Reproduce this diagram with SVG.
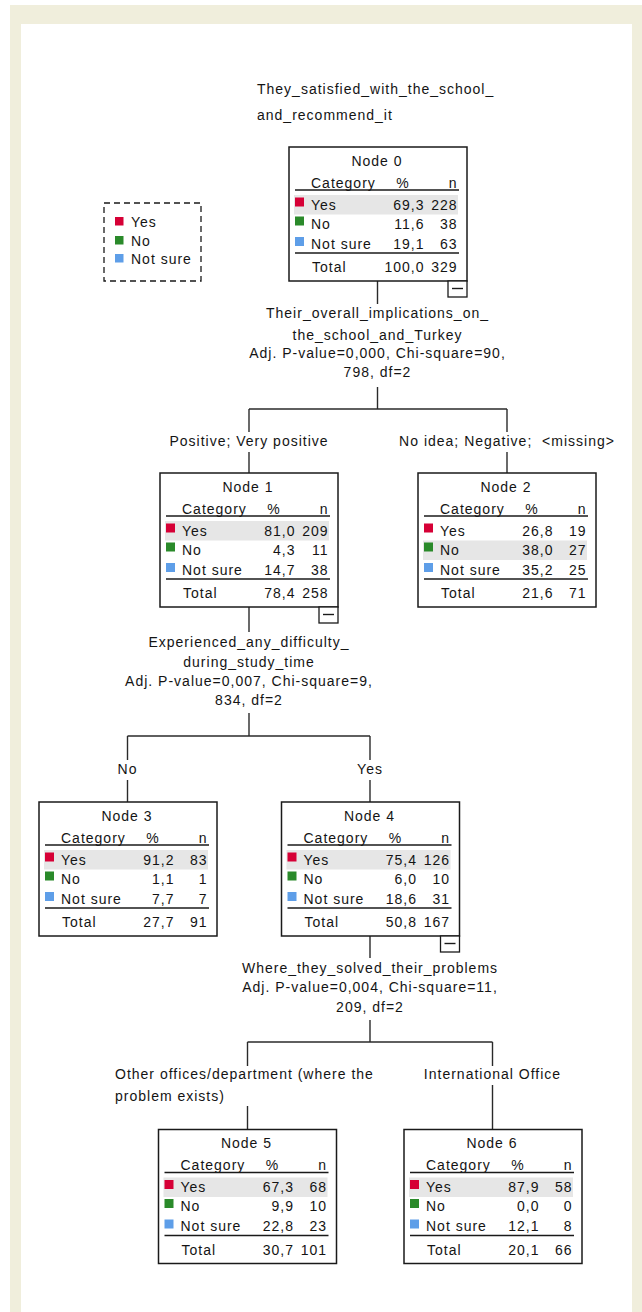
<svg xmlns="http://www.w3.org/2000/svg" width="642" height="1312" viewBox="0 0 642 1312">
<style>
text{font-family:"Liberation Sans",Arial,sans-serif;font-size:14px;letter-spacing:1px;fill:#141414}
.m{text-anchor:middle}
.e{text-anchor:end}
.box{fill:#fff;stroke:#1a1a1a;stroke-width:1.5}
.hl{fill:#e6e6e6}
.rule{stroke:#1a1a1a;stroke-width:1.4}
.conn line{stroke:#2a2a2a;stroke-width:1.4}
.r{fill:#d60036}.g{fill:#2a8a2a}.b{fill:#5e9ee8}
.mb{fill:#fff;stroke:#1a1a1a;stroke-width:1.3}
</style>
<rect x="10" y="5" width="632" height="1307" fill="#f0eedc"/>
<rect x="21" y="24" width="611" height="1288" fill="#fff"/>

<g id="title">
<text x="257" y="94">They_satisfied_with_the_school_</text>
<text x="257" y="119.5">and_recommend_it</text>
</g>

<g id="legend">
<rect x="104" y="203" width="97" height="78" fill="none" stroke="#1a1a1a" stroke-width="1.3" stroke-dasharray="6,4"/>
<rect class="r" x="115" y="217" width="8.5" height="8.5"/>
<rect class="g" x="115" y="236" width="8.5" height="8.5"/>
<rect class="b" x="115" y="254" width="8.5" height="8.5"/>
<text x="131" y="226.5">Yes</text>
<text x="131" y="245.5">No</text>
<text x="131" y="264">Not sure</text>
</g>

<g class="conn" id="connectors">
<line x1="377.5" y1="281" x2="377.5" y2="304"/>
<line x1="377.5" y1="387" x2="377.5" y2="409"/>
<line x1="249" y1="409" x2="507" y2="409"/>
<line x1="249" y1="409" x2="249" y2="432"/>
<line x1="507" y1="409" x2="507" y2="432"/>
<line x1="249" y1="452" x2="249" y2="473"/>
<line x1="507" y1="452" x2="507" y2="473"/>
<line x1="249" y1="607" x2="249" y2="632"/>
<line x1="249" y1="713" x2="249" y2="736"/>
<line x1="127.5" y1="736" x2="370" y2="736"/>
<line x1="127.5" y1="736" x2="127.5" y2="760"/>
<line x1="370" y1="736" x2="370" y2="760"/>
<line x1="127.5" y1="780" x2="127.5" y2="802"/>
<line x1="370" y1="780" x2="370" y2="802"/>
<line x1="370" y1="936" x2="370" y2="958"/>
<line x1="370" y1="1020" x2="370" y2="1042"/>
<line x1="247.5" y1="1042" x2="492.5" y2="1042"/>
<line x1="247.5" y1="1042" x2="247.5" y2="1066"/>
<line x1="492.5" y1="1042" x2="492.5" y2="1066"/>
<line x1="247.5" y1="1106" x2="247.5" y2="1129.5"/>
<line x1="492.5" y1="1085" x2="492.5" y2="1129.5"/>
</g>

<g id="split-labels">
<text class="m" x="377.5" y="318">Their_overall_implications_on_</text>
<text class="m" x="377.5" y="340">the_school_and_Turkey</text>
<text class="m" x="377.5" y="358">Adj. P-value=0,000, Chi-square=90,</text>
<text class="m" x="377.5" y="377">798, df=2</text>
<text class="m" x="249" y="446">Positive; Very positive</text>
<text class="m" x="507" y="446">No idea; Negative;&#160; &lt;missing&gt;</text>
<text class="m" x="249" y="646.5">Experienced_any_difficulty_</text>
<text class="m" x="249" y="666.5">during_study_time</text>
<text class="m" x="249" y="685.5">Adj. P-value=0,007, Chi-square=9,</text>
<text class="m" x="249" y="705">834, df=2</text>
<text class="m" x="127.5" y="774">No</text>
<text class="m" x="370" y="774">Yes</text>
<text class="m" x="370" y="973">Where_they_solved_their_problems</text>
<text class="m" x="370" y="992">Adj. P-value=0,004, Chi-square=11,</text>
<text class="m" x="370" y="1012">209, df=2</text>
<text x="115" y="1079">Other offices/department (where the</text>
<text x="115" y="1101">problem exists)</text>
<text class="m" x="492.5" y="1079">International Office</text>
</g>

<g id="node0" transform="translate(289,147)">
<rect class="box" x="0" y="0" width="178" height="134"/>
<rect class="hl" x="5" y="48" width="164" height="19.5"/>
<text class="m" x="88" y="18.5">Node 0</text>
<text x="22" y="40.5">Category</text><text class="m" x="114" y="40.5">%</text><text class="e" x="168.5" y="40.5">n</text>
<line class="rule" x1="6" y1="43" x2="170" y2="43"/>
<rect class="r" x="6" y="50.5" width="9" height="9"/><rect class="g" x="6" y="69.5" width="9" height="9"/><rect class="b" x="6" y="90" width="9" height="9"/>
<text x="22" y="62.5">Yes</text><text class="e" x="135.5" y="62.5">69,3</text><text class="e" x="168.5" y="62.5">228</text>
<text x="22" y="81.5">No</text><text class="e" x="135.5" y="81.5">11,6</text><text class="e" x="168.5" y="81.5">38</text>
<text x="22" y="101.5">Not sure</text><text class="e" x="135.5" y="101.5">19,1</text><text class="e" x="168.5" y="101.5">63</text>
<line class="rule" x1="6" y1="106" x2="170" y2="106"/>
<text x="23" y="125">Total</text><text class="e" x="135.5" y="125">100,0</text><text class="e" x="168.5" y="125">329</text>
<rect class="mb" x="159" y="134" width="19" height="16"/><line class="rule" x1="163" y1="141.5" x2="174" y2="141.5"/>
</g>

<g id="node1" transform="translate(160,473)">
<rect class="box" x="0" y="0" width="178" height="134"/>
<rect class="hl" x="5" y="48" width="164" height="19.5"/>
<text class="m" x="88" y="18.5">Node 1</text>
<text x="22" y="40.5">Category</text><text class="m" x="114" y="40.5">%</text><text class="e" x="168.5" y="40.5">n</text>
<line class="rule" x1="6" y1="43" x2="170" y2="43"/>
<rect class="r" x="6" y="50.5" width="9" height="9"/><rect class="g" x="6" y="69.5" width="9" height="9"/><rect class="b" x="6" y="90" width="9" height="9"/>
<text x="22" y="62.5">Yes</text><text class="e" x="135.5" y="62.5">81,0</text><text class="e" x="168.5" y="62.5">209</text>
<text x="22" y="81.5">No</text><text class="e" x="135.5" y="81.5">4,3</text><text class="e" x="168.5" y="81.5">11</text>
<text x="22" y="101.5">Not sure</text><text class="e" x="135.5" y="101.5">14,7</text><text class="e" x="168.5" y="101.5">38</text>
<line class="rule" x1="6" y1="106" x2="170" y2="106"/>
<text x="23" y="125">Total</text><text class="e" x="135.5" y="125">78,4</text><text class="e" x="168.5" y="125">258</text>
<rect class="mb" x="159" y="134" width="19" height="16"/><line class="rule" x1="163" y1="141.5" x2="174" y2="141.5"/>
</g>

<g id="node2" transform="translate(418,473)">
<rect class="box" x="0" y="0" width="178" height="134"/>
<rect class="hl" x="5" y="67.5" width="164" height="19.5"/>
<text class="m" x="88" y="18.5">Node 2</text>
<text x="22" y="40.5">Category</text><text class="m" x="114" y="40.5">%</text><text class="e" x="168.5" y="40.5">n</text>
<line class="rule" x1="6" y1="43" x2="170" y2="43"/>
<rect class="r" x="6" y="50.5" width="9" height="9"/><rect class="g" x="6" y="69.5" width="9" height="9"/><rect class="b" x="6" y="90" width="9" height="9"/>
<text x="22" y="62.5">Yes</text><text class="e" x="135.5" y="62.5">26,8</text><text class="e" x="168.5" y="62.5">19</text>
<text x="22" y="81.5">No</text><text class="e" x="135.5" y="81.5">38,0</text><text class="e" x="168.5" y="81.5">27</text>
<text x="22" y="101.5">Not sure</text><text class="e" x="135.5" y="101.5">35,2</text><text class="e" x="168.5" y="101.5">25</text>
<line class="rule" x1="6" y1="106" x2="170" y2="106"/>
<text x="23" y="125">Total</text><text class="e" x="135.5" y="125">21,6</text><text class="e" x="168.5" y="125">71</text>
</g>

<g id="node3" transform="translate(39,802)">
<rect class="box" x="0" y="0" width="178" height="134"/>
<rect class="hl" x="5" y="48" width="164" height="19.5"/>
<text class="m" x="88" y="18.5">Node 3</text>
<text x="22" y="40.5">Category</text><text class="m" x="114" y="40.5">%</text><text class="e" x="168.5" y="40.5">n</text>
<line class="rule" x1="6" y1="43" x2="170" y2="43"/>
<rect class="r" x="6" y="50.5" width="9" height="9"/><rect class="g" x="6" y="69.5" width="9" height="9"/><rect class="b" x="6" y="90" width="9" height="9"/>
<text x="22" y="62.5">Yes</text><text class="e" x="135.5" y="62.5">91,2</text><text class="e" x="168.5" y="62.5">83</text>
<text x="22" y="81.5">No</text><text class="e" x="135.5" y="81.5">1,1</text><text class="e" x="168.5" y="81.5">1</text>
<text x="22" y="101.5">Not sure</text><text class="e" x="135.5" y="101.5">7,7</text><text class="e" x="168.5" y="101.5">7</text>
<line class="rule" x1="6" y1="106" x2="170" y2="106"/>
<text x="23" y="125">Total</text><text class="e" x="135.5" y="125">27,7</text><text class="e" x="168.5" y="125">91</text>
</g>

<g id="node4" transform="translate(281.5,802)">
<rect class="box" x="0" y="0" width="178" height="134"/>
<rect class="hl" x="5" y="48" width="164" height="19.5"/>
<text class="m" x="88" y="18.5">Node 4</text>
<text x="22" y="40.5">Category</text><text class="m" x="114" y="40.5">%</text><text class="e" x="168.5" y="40.5">n</text>
<line class="rule" x1="6" y1="43" x2="170" y2="43"/>
<rect class="r" x="6" y="50.5" width="9" height="9"/><rect class="g" x="6" y="69.5" width="9" height="9"/><rect class="b" x="6" y="90" width="9" height="9"/>
<text x="22" y="62.5">Yes</text><text class="e" x="135.5" y="62.5">75,4</text><text class="e" x="168.5" y="62.5">126</text>
<text x="22" y="81.5">No</text><text class="e" x="135.5" y="81.5">6,0</text><text class="e" x="168.5" y="81.5">10</text>
<text x="22" y="101.5">Not sure</text><text class="e" x="135.5" y="101.5">18,6</text><text class="e" x="168.5" y="101.5">31</text>
<line class="rule" x1="6" y1="106" x2="170" y2="106"/>
<text x="23" y="125">Total</text><text class="e" x="135.5" y="125">50,8</text><text class="e" x="168.5" y="125">167</text>
<rect class="mb" x="159" y="134" width="19" height="16"/><line class="rule" x1="163" y1="141.5" x2="174" y2="141.5"/>
</g>

<g id="node5" transform="translate(158.5,1129.5)">
<rect class="box" x="0" y="0" width="178" height="134"/>
<rect class="hl" x="5" y="48" width="164" height="19.5"/>
<text class="m" x="88" y="18.5">Node 5</text>
<text x="22" y="40.5">Category</text><text class="m" x="114" y="40.5">%</text><text class="e" x="168.5" y="40.5">n</text>
<line class="rule" x1="6" y1="43" x2="170" y2="43"/>
<rect class="r" x="6" y="50.5" width="9" height="9"/><rect class="g" x="6" y="69.5" width="9" height="9"/><rect class="b" x="6" y="90" width="9" height="9"/>
<text x="22" y="62.5">Yes</text><text class="e" x="135.5" y="62.5">67,3</text><text class="e" x="168.5" y="62.5">68</text>
<text x="22" y="81.5">No</text><text class="e" x="135.5" y="81.5">9,9</text><text class="e" x="168.5" y="81.5">10</text>
<text x="22" y="101.5">Not sure</text><text class="e" x="135.5" y="101.5">22,8</text><text class="e" x="168.5" y="101.5">23</text>
<line class="rule" x1="6" y1="106" x2="170" y2="106"/>
<text x="23" y="125">Total</text><text class="e" x="135.5" y="125">30,7</text><text class="e" x="168.5" y="125">101</text>
</g>

<g id="node6" transform="translate(404,1129.5)">
<rect class="box" x="0" y="0" width="178" height="134"/>
<rect class="hl" x="5" y="48" width="164" height="19.5"/>
<text class="m" x="88" y="18.5">Node 6</text>
<text x="22" y="40.5">Category</text><text class="m" x="114" y="40.5">%</text><text class="e" x="168.5" y="40.5">n</text>
<line class="rule" x1="6" y1="43" x2="170" y2="43"/>
<rect class="r" x="6" y="50.5" width="9" height="9"/><rect class="g" x="6" y="69.5" width="9" height="9"/><rect class="b" x="6" y="90" width="9" height="9"/>
<text x="22" y="62.5">Yes</text><text class="e" x="135.5" y="62.5">87,9</text><text class="e" x="168.5" y="62.5">58</text>
<text x="22" y="81.5">No</text><text class="e" x="135.5" y="81.5">0,0</text><text class="e" x="168.5" y="81.5">0</text>
<text x="22" y="101.5">Not sure</text><text class="e" x="135.5" y="101.5">12,1</text><text class="e" x="168.5" y="101.5">8</text>
<line class="rule" x1="6" y1="106" x2="170" y2="106"/>
<text x="23" y="125">Total</text><text class="e" x="135.5" y="125">20,1</text><text class="e" x="168.5" y="125">66</text>
</g>
</svg>
